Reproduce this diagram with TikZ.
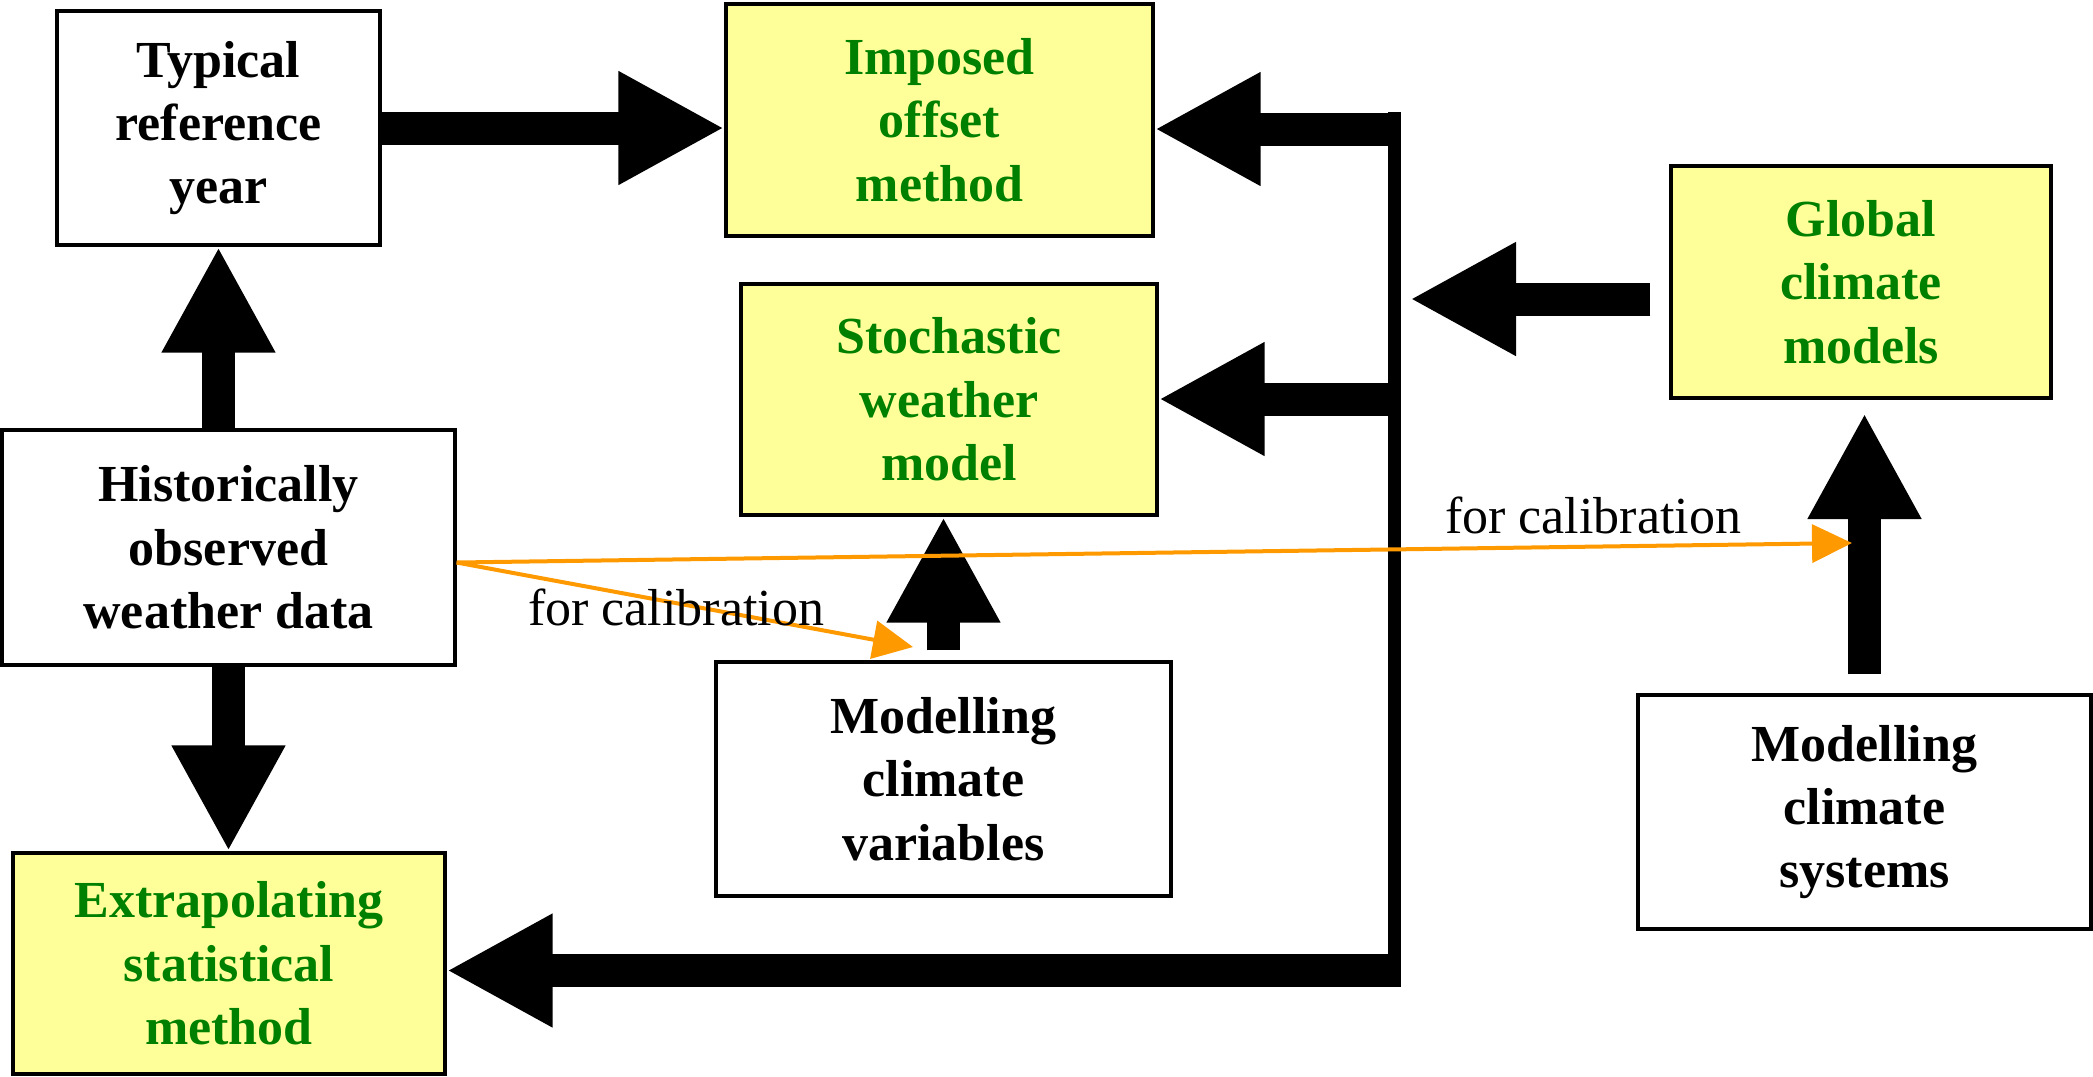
\documentclass[tikz,border=0pt]{standalone}
\usepackage{fontspec}
\setmainfont{Liberation Serif}
\usetikzlibrary{arrows.meta}

\definecolor{boxyellow}{RGB}{255,255,153}
\definecolor{textgreen}{RGB}{0,128,0}
\definecolor{calorange}{RGB}{255,153,0}

\begin{document}
\begin{tikzpicture}[
  x=0.3pt, y=-0.3pt,
  every node/.style={font=\fontsize{15.6}{19}\selectfont},
  plain/.style={draw, line width=1pt, align=center, inner sep=0pt,
    font=\fontsize{15.6}{19}\selectfont\bfseries},
  method/.style={plain, fill=boxyellow, text=textgreen},
  bigarr/.style={-{Triangle[length=31.8pt,width=31.8pt]}, line width=9.9pt},
  calarr/.style={-{Triangle[length=12pt,width=11.4pt]}, draw=calorange, line width=1.2pt},
  lbl/.style={inner sep=0pt, anchor=base},
]
  \useasboundingbox (0,0) rectangle (2093,1076);

  % boxes
  \node[plain,  minimum width=96.9pt,  minimum height=70.2pt] (typ)    at (218.5,128)  {Typical\\reference\\year};
  \node[method, minimum width=128.1pt, minimum height=69.6pt] (imp)    at (939.5,120)  {Imposed\\offset\\method};
  \node[method, minimum width=124.8pt, minimum height=69.3pt] (stoch)  at (949,399.5)  {Stochastic\\weather\\model};
  \node[method, minimum width=114pt,   minimum height=69.6pt] (glob)   at (1861,282)   {Global\\climate\\models};
  \node[plain,  minimum width=135.9pt, minimum height=70.5pt] (hist)   at (228.5,547.5) {Historically\\observed\\weather data};
  \node[plain,  minimum width=136.5pt, minimum height=70.2pt] (mv)     at (943.5,779)  {Modelling\\climate\\variables};
  \node[method, minimum width=129.6pt, minimum height=66.3pt] (extrap) at (229,963.5)  {Extrapolating\\statistical\\method};
  \node[plain,  minimum width=135.9pt, minimum height=70.2pt] (ms)     at (1864.5,812) {Modelling\\climate\\systems};

  % left column
  \draw[bigarr] (typ.east) -- (imp.west |- typ.east);
  \draw[bigarr] (hist.north -| typ.south) -- (typ.south);
  \draw[bigarr] (hist.south) -- (hist.south |- extrap.north);

  % up arrows into the model boxes
  \draw[bigarr] ([yshift=3pt]mv.north) -- (mv.north |- stoch.south);
  \draw[bigarr] ([yshift=5.7pt]ms.north) -- ([yshift=-4pt]ms.north |- glob.south);

  % distribution bus on the right
  \coordinate (bustop) at (1394,112);
  \coordinate (busbot) at (1394,987);
  \coordinate (tapimp) at (1400,129);
  \coordinate (tapsto) at (1400,399);
  \coordinate (tapext) at (1400,970.5);
  \coordinate (busin)  at (1410,299);
  \draw[line width=3.9pt] (bustop) -- (busbot);
  \draw[bigarr] (tapimp) -- (tapimp -| imp.east);
  \draw[bigarr] (tapsto) -- (tapsto -| stoch.east);
  \draw[bigarr] (tapext) -- (tapext -| extrap.east);
  \draw[bigarr] ([xshift=-5.7pt]glob.west |- busin) -- (busin);

  % calibration links
  \coordinate (calglob) at (1852,543);
  \coordinate (calmv)   at (913,647);
  \draw[calarr] ([yshift=-4.5pt]hist.east) -- (calglob);
  \draw[calarr] ([yshift=-4.5pt]hist.east) -- (calmv);
  \node[lbl] (cal1) at (1593,533) {for calibration};
  \node[lbl] (cal2) at (676,625)  {for calibration};
\end{tikzpicture}
\end{document}
